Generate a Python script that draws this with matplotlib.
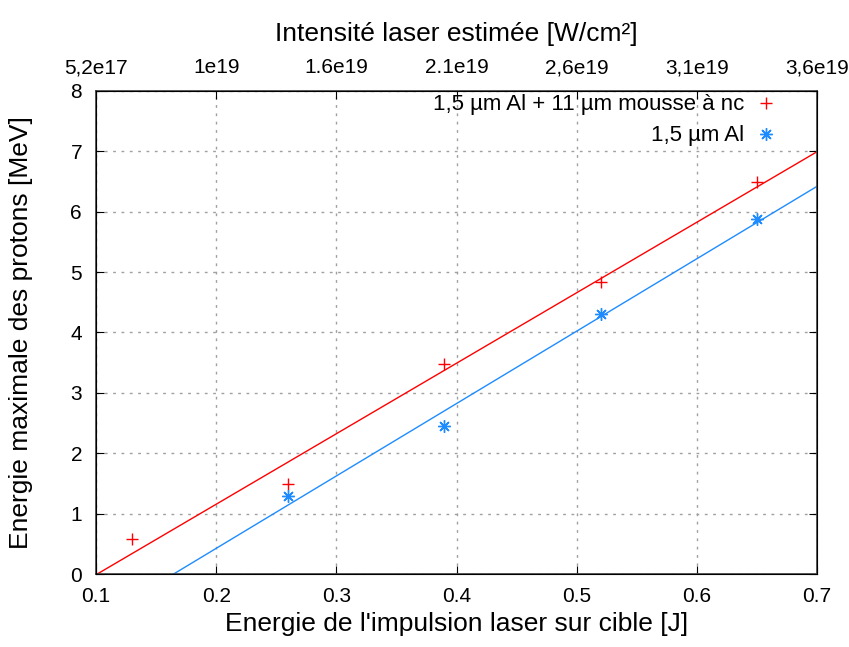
import numpy as np
import matplotlib
matplotlib.use('Agg')
import matplotlib.pyplot as plt

plt.rcParams['font.family'] = ['Liberation Sans', 'DejaVu Sans']

# Data
energy_nc = [0.13, 0.26, 0.39, 0.52, 0.65]
proton_nc = [0.58, 1.49, 3.47, 4.83, 6.50]
energy_al = [0.26, 0.39, 0.52, 0.65]
proton_al = [1.30, 2.45, 4.30, 5.88]

x_ticks = [0.1, 0.2, 0.3, 0.4, 0.5, 0.6, 0.7]
top_labels = ['5,2e17', '1e19', '1.6e19', '2.1e19', '2,6e19', '3,1e19', '3,6e19']

red = '#ff0000'
blue = '#1e8cff'

fig = plt.figure(figsize=(8.49, 6.47), dpi=100)
ax = fig.add_axes([96 / 849, 1 - 574 / 647, (817 - 96) / 849, (574 - 91) / 647])

# linear fits
xx = np.linspace(0.1, 0.7, 200)
p_nc = np.polyfit(energy_nc, proton_nc, 1)
p_al = np.polyfit(energy_al, proton_al, 1)
ax.plot(xx, np.polyval(p_nc, xx), color=red, lw=1)
ax.plot(xx, np.polyval(p_al, xx), color=blue, lw=1)

ax.plot(energy_nc, proton_nc, ls='none', marker='+', ms=9, mew=1, color=red,
        label=u'1,5 µm Al + 11 µm mousse à nc')
ax.plot(energy_al, proton_al, ls='none', marker=(8, 2, 0), ms=9, mew=1, color=blue,
        label=u'1,5 µm Al')

ax.set_xlim(0.1, 0.7)
ax.set_ylim(0, 8)
ax.set_xticks(x_ticks)
ax.set_xticklabels([str(t) for t in x_ticks])
ax.set_yticks(range(0, 9))
ax.grid(True, ls=(0, (2, 4)), color='#a0a0a0', lw=1)
ax.tick_params(direction='in', length=6, labelsize=15, right=True, pad=9, colors='black')
ax.tick_params(axis='y', pad=10)
for sp in ax.spines.values():
    sp.set_color('#404040')
    sp.set_linewidth(1.2)

ax.set_xlabel("Energie de l'impulsion laser sur cible [J]", fontsize=19, labelpad=5)
ax.set_ylabel('Energie maximale des protons [MeV]', fontsize=19, labelpad=27)

top = ax.twiny()
top.set_xlim(ax.get_xlim())
top.set_xticks(x_ticks)
top.set_xticklabels(top_labels)
top.tick_params(direction='in', length=6, labelsize=15, pad=10)
top.set_xlabel(u'Intensité laser estimée [W/cm²]', fontsize=19, labelpad=12)

leg = ax.legend(loc='upper right', bbox_to_anchor=(1 - 25 / 721, 1), frameon=False,
                markerfirst=False, fontsize=16, handlelength=2, handletextpad=0,
                borderaxespad=0, borderpad=0.15, labelspacing=0.45)
for t in leg.get_texts():
    t.set_ha('right')
leg._legend_box.align = 'right'

fig.savefig('out.png', dpi=100)
